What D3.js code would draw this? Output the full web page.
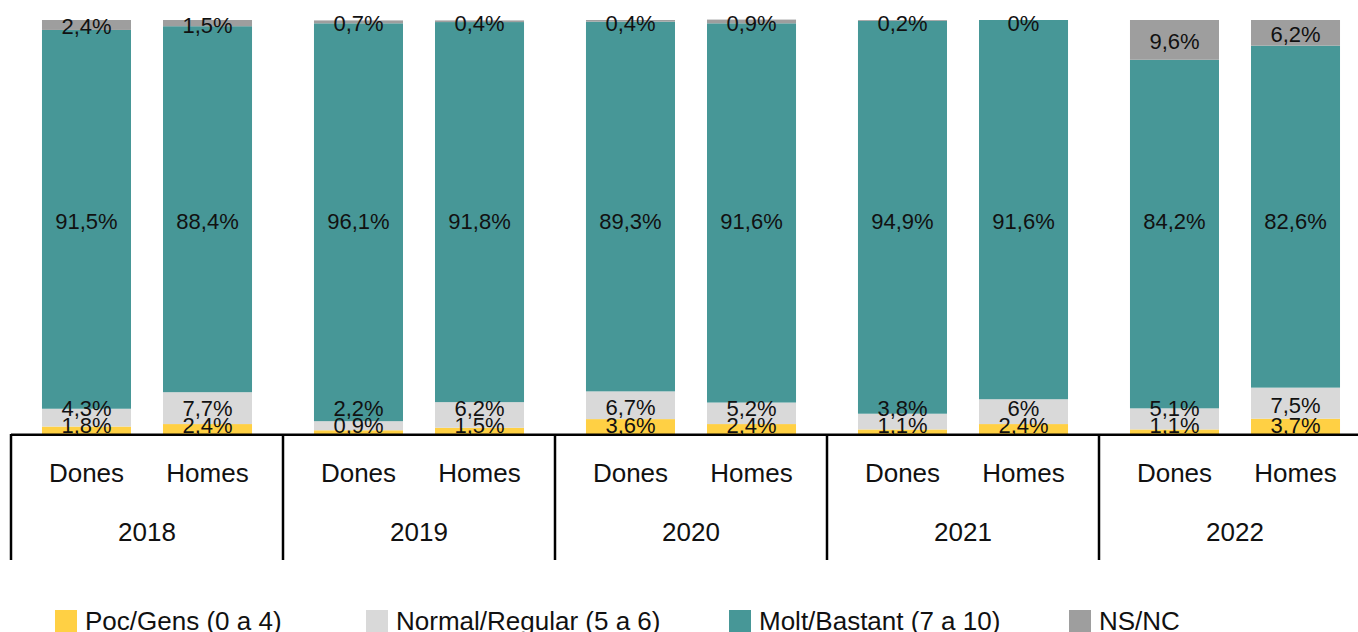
<!DOCTYPE html>
<html>
<head>
<meta charset="utf-8">
<script src="https://cdn.jsdelivr.net/npm/d3@7"></script>
<style>
  html, body { margin: 0; padding: 0; background: #fff; overflow: hidden; }
  svg { display: block; font-family: "Liberation Sans", Arial, Helvetica, sans-serif; }
</style>
</head>
<body>
<svg id="chart" width="1358" height="632"></svg>
<script>
// ---- data ----
const years = ["2018", "2019", "2020", "2021", "2022"];
const genders = ["Dones", "Homes"];
const seriesNames = ["Poc/Gens (0 a 4)", "Normal/Regular (5 a 6)", "Molt/Bastant (7 a 10)", "NS/NC"];
// values in order: 2018 Dones, 2018 Homes, 2019 Dones, 2019 Homes, ...
const pocGens       = [1.8, 2.4, 0.9, 1.5, 3.6, 2.4, 1.1, 2.4, 1.1, 3.7];
const normalRegular = [4.3, 7.7, 2.2, 6.2, 6.7, 5.2, 3.8, 6, 5.1, 7.5];
const moltBastant   = [91.5, 88.4, 96.1, 91.8, 89.3, 91.6, 94.9, 91.6, 84.2, 82.6];
const nsnc          = [2.4, 1.5, 0.7, 0.4, 0.4, 0.9, 0.2, 0, 9.6, 6.2];
const seriesColors = ["#FFD044", "#D9D9D9", "#479797", "#9E9E9E"];

// ---- layout ----
const W = 1358, H = 632;
const plotTop = 20, plotBottom = 434;
const svg = d3.select("#chart");

const rows = [];
years.forEach((yr, yi) => genders.forEach((g, gi) => {
  const i = yi * 2 + gi;
  rows.push({year: yr, gender: g, values: [pocGens[i], normalRegular[i], moltBastant[i], nsnc[i]]});
}));

const x0 = d3.scaleBand().domain(years).range([11, 1371]).padding(0);
const x1 = d3.scaleBand().domain(genders).range([0, x0.bandwidth()]).paddingInner(0.2645).paddingOuter(0.256);
const y = d3.scaleLinear().domain([0, 100]).range([plotBottom, plotTop]);

// clip for the plot area (labels cut at the axis)
svg.append("defs").append("clipPath").attr("id", "plotclip")
  .append("rect").attr("x", 0).attr("y", 0).attr("width", W).attr("height", plotBottom);

const plot = svg.append("g").attr("clip-path", "url(#plotclip)");

// bars
rows.forEach(r => {
  let acc = 0;
  r.segs = r.values.map((v, k) => { const s = {k, v, y0: acc, y1: acc + v}; acc += v; return s; });
  const bx = x0(r.year) + x1(r.gender);
  plot.selectAll(null).data(r.segs).enter().append("rect")
    .attr("x", bx)
    .attr("width", x1.bandwidth())
    .attr("y", d => y(d.y1))
    .attr("height", d => y(d.y0) - y(d.y1))
    .attr("fill", d => seriesColors[d.k]);
});

// labels
const fmt = v => String(v).replace(".", ",") + "%";
const labelFont = 22, halfDigit = 7.9, minGap = 17, topMin = 23.5;
const mainLabelCenter = 221; // labels of the main series sit at the middle of the plot
rows.forEach(r => {
  const bx = x0(r.year) + x1(r.gender) + x1.bandwidth() / 2;
  const centers = r.segs.map(s => (y(s.y0) + y(s.y1)) / 2 + 1.5);
  centers[2] = mainLabelCenter;
  // bottom labels: clamp to the axis, then keep them apart going up
  centers[0] = Math.min(centers[0], 433 - halfDigit);
  centers[1] = Math.min(centers[1], centers[0] - minGap);
  // top label: keep inside the top margin
  centers[3] = Math.max(centers[3], topMin);
  plot.selectAll(null).data(r.segs).enter().append("text")
    .attr("x", bx)
    .attr("y", (d, i) => centers[i] + halfDigit)
    .attr("text-anchor", "middle")
    .attr("font-size", labelFont)
    .attr("fill", "#111")
    .text(d => fmt(d.v));
});

// axis lines
const axisG = svg.append("g");
axisG.append("line")
  .attr("x1", x0.range()[0]).attr("x2", x0.range()[1])
  .attr("y1", plotBottom + 0.8).attr("y2", plotBottom + 0.8)
  .attr("stroke", "#000").attr("stroke-width", 2.5);
years.forEach(yr => {
  axisG.append("line")
    .attr("x1", x0(yr)).attr("x2", x0(yr))
    .attr("y1", plotBottom).attr("y2", 560)
    .attr("stroke", "#000").attr("stroke-width", 2.5);
});
// category labels
years.forEach(yr => {
  genders.forEach(g => {
    axisG.append("text")
      .attr("x", x0(yr) + x1(g) + x1.bandwidth() / 2)
      .attr("y", 482)
      .attr("text-anchor", "middle")
      .attr("font-size", 26)
      .attr("fill", "#111")
      .text(g);
  });
  axisG.append("text")
    .attr("x", x0(yr) + x0.bandwidth() / 2)
    .attr("y", 540.5)
    .attr("text-anchor", "middle")
    .attr("font-size", 26)
    .attr("fill", "#111")
    .text(yr);
});

// legend
const legendX = [55, 366, 729, 1069];
const leg = svg.append("g");
seriesNames.forEach((name, k) => {
  leg.append("rect").attr("x", legendX[k]).attr("y", 610).attr("width", 22).attr("height", 22)
    .attr("fill", seriesColors[k]);
  leg.append("text").attr("x", legendX[k] + 30).attr("y", 630)
    .attr("font-size", 26).attr("fill", "#111").text(name);
});
</script>
</body>
</html>
